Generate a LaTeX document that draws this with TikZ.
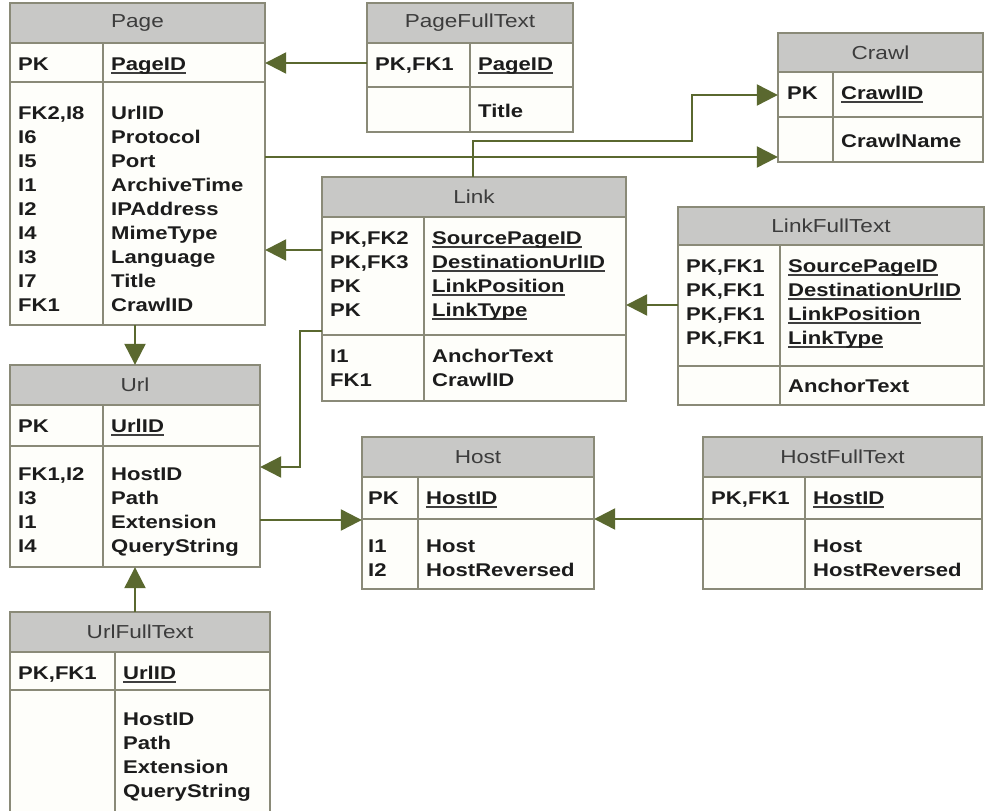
\documentclass[tikz,border=0pt]{standalone}
\usepackage{fontspec}
\setmainfont{Liberation Sans}[FakeStretch=1.2]
\usetikzlibrary{arrows.meta,fit}
\definecolor{headfill}{HTML}{C8C8C6}
\definecolor{bodyfill}{HTML}{FEFEFA}
\definecolor{gridc}{HTML}{8A8A78}
\definecolor{connc}{HTML}{5A682F}
\definecolor{txtc}{HTML}{1C1C1C}
\definecolor{hdrc}{HTML}{3C3C3C}
\newcommand\ulfield[1]{\setbox0=\hbox{#1}\rlap{\color{txtc!85}\rule[-3.6pt]{\wd0}{1.6pt}}\box0}
\tikzset{
  tblline/.style={draw=gridc, line width=1.7pt},
  conn/.style={draw=connc, line width=2.3pt, -{Triangle[length=21pt,width=21pt]}},
  fld/.style={font=\fontsize{18.4}{20}\selectfont\bfseries, text=txtc, inner sep=0pt, anchor=base west},
  hdr/.style={font=\fontsize{18.8}{20}\selectfont, text=hdrc, inner sep=0pt},
}
% name, x1, y1, x2, y2, header bottom, pk bottom, divider x, title
\newcommand\ertable[9]{%
  \fill[bodyfill] (#2,#3) rectangle (#4,#5);
  \fill[headfill] (#2,#3) rectangle (#4,#6);
  \draw[tblline] (#2,#6) -- (#4,#6) (#2,#7) -- (#4,#7) (#8,#6) -- (#8,#5);
  \draw[tblline] (#2,#3) rectangle (#4,#5);
  \node[inner sep=0pt, fit={(#2,#3) (#4,#5)}] (#1) {};
  \node[hdr] (#1-title) at ({(#2+#4)/2},{(#3+#6)/2}) {#9};
}
% name prefix, x, first baseline, list
\newcommand\col[4]{\foreach \ff [count=\ii] in {#4}{\node[fld] (#1\ii) at (#2,{#3+24*(\ii-1)}) {\ff};}}
\begin{document}
\begin{tikzpicture}[x=1pt,y=-1pt]
\useasboundingbox (0,0) rectangle (986,811);
\clip (0,0) rectangle (986,811);
\fill[white] (0,0) rectangle (986,811);

\ertable{page}{10}{3}{265}{325}{43}{82}{103}{Page}
\ertable{pft}{367}{3}{573}{132}{43}{87}{470}{PageFullText}
\ertable{crawl}{778}{33}{983}{162}{72}{117}{833}{Crawl}
\ertable{link}{322}{177}{626}{401}{217}{335}{424}{Link}
\ertable{lft}{678}{207}{984}{405}{245}{366}{780}{LinkFullText}
\ertable{url}{10}{365}{260}{567}{405}{446}{103}{Url}
\ertable{host}{362}{437}{594}{589}{477}{519}{418}{Host}
\ertable{hft}{703}{437}{982}{589}{477}{519}{805}{HostFullText}
\ertable{uft}{10}{612}{270}{830}{652}{690}{115}{UrlFullText}

% Page
\col{page-pk}{18}{70}{PK}
\col{page-pf}{111}{70}{{\ulfield{PageID}}}
\col{page-k}{18}{119}{{FK2,I8},I6,I5,I1,I2,I4,I3,I7,FK1}
\col{page-f}{111}{119}{UrlID,Protocol,Port,ArchiveTime,IPAddress,MimeType,Language,Title,CrawlID}
% PageFullText
\col{pft-pk}{375}{70}{{PK,FK1}}
\col{pft-pf}{478}{70}{{\ulfield{PageID}}}
\col{pft-f}{478}{117}{Title}
% Crawl
\col{crawl-pk}{787}{99}{PK}
\col{crawl-pf}{841}{99}{{\ulfield{CrawlID}}}
\col{crawl-f}{841}{147}{CrawlName}
% Link
\col{link-pk}{330}{244}{{PK,FK2},{PK,FK3},PK,PK}
\col{link-pf}{432}{244}{{\ulfield{SourcePageID}},{\ulfield{DestinationUrlID}},{\ulfield{LinkPosition}},{\ulfield{LinkType}}}
\col{link-k}{330}{362}{I1,FK1}
\col{link-f}{432}{362}{AnchorText,CrawlID}
% LinkFullText
\col{lft-pk}{686}{272}{{PK,FK1},{PK,FK1},{PK,FK1},{PK,FK1}}
\col{lft-pf}{788}{272}{{\ulfield{SourcePageID}},{\ulfield{DestinationUrlID}},{\ulfield{LinkPosition}},{\ulfield{LinkType}}}
\col{lft-f}{788}{392}{AnchorText}
% Url
\col{url-pk}{18}{432}{PK}
\col{url-pf}{111}{432}{{\ulfield{UrlID}}}
\col{url-k}{18}{480}{{FK1,I2},I3,I1,I4}
\col{url-f}{111}{480}{HostID,Path,Extension,QueryString}
% Host
\col{host-pk}{368}{504}{PK}
\col{host-pf}{426}{504}{{\ulfield{HostID}}}
\col{host-k}{368}{552}{I1,I2}
\col{host-f}{426}{552}{Host,HostReversed}
% HostFullText
\col{hft-pk}{711}{504}{{PK,FK1}}
\col{hft-pf}{813}{504}{{\ulfield{HostID}}}
\col{hft-f}{813}{552}{Host,HostReversed}
% UrlFullText
\col{uft-pk}{18}{679}{{PK,FK1}}
\col{uft-pf}{123}{679}{{\ulfield{UrlID}}}
\col{uft-f}{123}{725}{HostID,Path,Extension,QueryString}

% connectors
\coordinate (yA) at (0,63);
\draw[conn] (pft.west |- yA) -- (page.east |- yA);
\coordinate (yB) at (0,157);
\draw[conn] (page.east |- yB) -- (crawl.west |- yB);
\coordinate (bA) at (473,141);
\coordinate (bB) at (692,141);
\coordinate (bC) at (692,95);
\draw[conn] (link.north -| bA) -- (bA) -- (bB) -- (bC) -- (crawl.west |- bC);
\coordinate (yC) at (0,250);
\draw[conn] (link.west |- yC) -- (page.east |- yC);
\coordinate (yD) at (0,305);
\draw[conn] (lft.west |- yD) -- (link.east |- yD);
\coordinate (bD) at (300,331);
\coordinate (bE) at (300,467);
\draw[conn] (link.west |- bD) -- (bD) -- (bE) -- (url.east |- bE);
\coordinate (xA) at (135,0);
\draw[conn] (page.south -| xA) -- (url.north -| xA);
\draw[conn] (uft.north -| xA) -- (url.south -| xA);
\coordinate (yE) at (0,520);
\draw[conn] (url.east |- yE) -- (host.west |- yE);
\coordinate (yF) at (0,519);
\draw[conn] (hft.west |- yF) -- (host.east |- yF);
\end{tikzpicture}
\end{document}
